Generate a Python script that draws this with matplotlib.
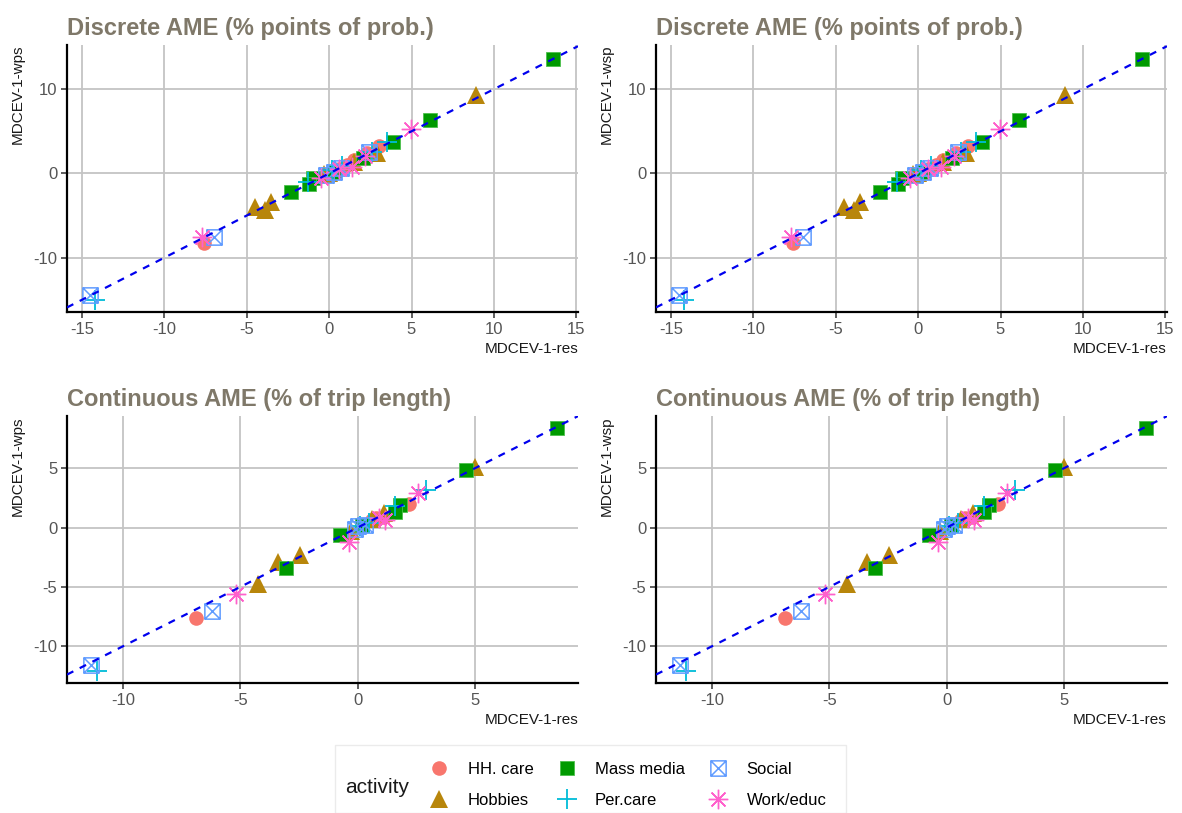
import matplotlib
matplotlib.use("Agg")
import matplotlib.pyplot as plt
from matplotlib.lines import Line2D
from matplotlib.patches import Rectangle
from matplotlib.path import Path

plt.rcParams['font.family'] = ['Liberation Sans', 'DejaVu Sans']
plt.rcParams['axes.unicode_minus'] = False

# activity order as in the legend
activities = ["HH. care", "Hobbies", "Mass media", "Per.care", "Social", "Work/educ"]

# discrete AME (% points of prob.), x = MDCEV-1-res, y = MDCEV-1-wps
disc_act = (["HH. care"] * 6 + ["Hobbies"] * 8 + ["Mass media"] * 8
            + ["Per.care"] * 6 + ["Social"] * 6 + ["Work/educ"] * 6)
disc_res = [-7.6, 3.0, 1.5, 2.3, 0.6, 1.1,
            8.9, -4.5, -3.9, -3.5, 2.9, -0.3, 0.0, 1.5,
            13.6, 6.1, 3.9, 2.05, -2.3, -1.0, -1.2, 0.3,
            -14.2, 3.5, 2.6, -1.3, 0.8, 0.2,
            -14.5, -7.0, 2.45, 0.3, 0.7, -0.2,
            4.95, -7.7, 1.4, 0.6, 2.2, -0.5]
disc_wps = [-8.2, 3.2, 1.6, 2.4, 0.5, 1.0,
            9.3, -3.95, -4.3, -3.4, 2.4, -0.1, 0.1, 1.4,
            13.6, 6.4, 3.75, 1.8, -2.2, -0.6, -1.2, 0.2,
            -15.0, 3.75, 2.5, -1.0, 0.9, 0.4,
            -14.4, -7.5, 2.6, 0.2, 0.7, -0.2,
            5.3, -7.5, 0.8, 0.5, 2.1, -0.6]
# the wsp panels look identical to the wps ones
disc_wsp = list(disc_wps)

# continuous AME (% of trip length)
cont_act = (["HH. care"] * 5 + ["Hobbies"] * 7 + ["Mass media"] * 7
            + ["Per.care"] * 5 + ["Social"] * 5 + ["Work/educ"] * 5)
cont_res = [-6.9, 2.2, 0.8, 1.1, 0.6,
            5.0, -3.4, -2.45, -4.26, -0.3, 0.6, 1.1,
            8.48, 4.6, 1.8, 1.6, -3.06, -0.77, 0.2,
            -11.1, 2.9, 1.6, 0.1, 0.5,
            -11.35, -6.2, 0.0, 0.3, -0.1,
            -5.2, 2.56, -0.37, 1.15, 0.9]
cont_wps = [-7.6, 2.0, 0.8, 0.9, 0.6,
            5.1, -2.9, -2.3, -4.76, -0.3, 0.7, 1.2,
            8.35, 4.85, 1.9, 1.35, -3.4, -0.6, 0.2,
            -12.1, 3.2, 1.8, 0.1, 0.4,
            -11.6, -7.0, 0.1, 0.2, -0.1,
            -5.6, 2.9, -1.2, 0.65, 0.8]
cont_wsp = list(cont_wps)

colors = {"HH. care": "#F8766D", "Hobbies": "#B8860B", "Mass media": "#009A00",
          "Per.care": "#00BCD8", "Social": "#619CFF", "Work/educ": "#FF61CC"}

# square with a cross inside (ggplot shape 7)
sq_x = Path([(-1, -1), (1, -1), (1, 1), (-1, 1), (-1, -1), (-1, -1), (1, 1), (-1, 1), (1, -1)],
            [Path.MOVETO, Path.LINETO, Path.LINETO, Path.LINETO, Path.CLOSEPOLY,
             Path.MOVETO, Path.LINETO, Path.MOVETO, Path.LINETO])

marker_style = {
    "HH. care": dict(marker="o", markersize=10.5, markeredgewidth=0),
    "Hobbies": dict(marker="^", markersize=12.5, markeredgewidth=0),
    "Mass media": dict(marker="s", markersize=10.5, markeredgewidth=0.6),
    "Per.care": dict(marker="+", markersize=15, markeredgewidth=1.3),
    "Social": dict(marker=sq_x, markersize=11, markeredgewidth=1.1, markerfacecolor="none"),
    "Work/educ": dict(marker=(8, 2, 0), markersize=14, markeredgewidth=1.0),
}


def style_marker(act):
    kw = dict(marker_style[act])
    kw["color"] = colors[act]
    if act == "Mass media":
        kw["markeredgecolor"] = "#4CC04C"
    return kw


W, H = 1182, 813
fig = plt.figure(figsize=(W / 100, H / 100), dpi=100)

panels = [
    # (left px, top px, x, y, act, title, ylabel, xlim, ylim, xticks, yticks)
    (67, 45, disc_res, disc_wps, disc_act, "Discrete AME (% points of prob.)", "MDCEV-1-wps",
     (-15.9, 15.1), (-16.44, 15.24), [-15, -10, -5, 0, 5, 10, 15], [-10, 0, 10]),
    (656, 45, disc_res, disc_wsp, disc_act, "Discrete AME (% points of prob.)", "MDCEV-1-wsp",
     (-15.9, 15.1), (-16.44, 15.24), [-15, -10, -5, 0, 5, 10, 15], [-10, 0, 10]),
    (67, 416, cont_res, cont_wps, cont_act, "Continuous AME (% of trip length)", "MDCEV-1-wps",
     (-12.39, 9.39), (-13.1, 9.4), [-10, -5, 0, 5], [-10, -5, 0, 5]),
    (656, 416, cont_res, cont_wsp, cont_act, "Continuous AME (% of trip length)", "MDCEV-1-wsp",
     (-12.39, 9.39), (-13.1, 9.4), [-10, -5, 0, 5], [-10, -5, 0, 5]),
]

for left, top, xs, ys, acts, title, ylab, xlim, ylim, xt, yt in panels:
    ax = fig.add_axes([left / W, 1 - (top + 267) / H, 511 / W, 267 / H])
    for act in activities:
        px = [x for x, a in zip(xs, acts) if a == act]
        py = [y for y, a in zip(ys, acts) if a == act]
        ax.plot(px, py, linestyle="none", zorder=3, **style_marker(act))
    ax.set_xlim(*xlim)
    ax.set_ylim(*ylim)
    ax.axline((0, 0), slope=1, color="#0000EE", lw=1.6, linestyle=(0, (3.2, 3.2)), zorder=4)
    ax.set_xticks(xt)
    ax.set_yticks(yt)
    ax.grid(True, color="#c4c4c4", lw=1.3, zorder=0)
    ax.set_axisbelow(True)
    for s in ["top", "right"]:
        ax.spines[s].set_visible(False)
    for s in ["left", "bottom"]:
        ax.spines[s].set_color("black")
        ax.spines[s].set_linewidth(1.6)
    ax.tick_params(labelsize=12, labelcolor="#555555", color="#333333",
                   length=4, width=1.1, pad=3)
    ax.set_title(title, loc="left", fontsize=17, fontweight="bold", color="#7f7869", pad=7)
    ax.set_ylabel(ylab, loc="top", fontsize=11, color="#1a1a1a", labelpad=6)
    ax.set_xlabel("MDCEV-1-res", loc="right", fontsize=11, color="#1a1a1a", labelpad=4)

# legend at the bottom, title on the left like ggplot
handles = []
for act in activities:
    handles.append(Line2D([], [], linestyle="none", **style_marker(act)))
fig.legend(handles, activities, ncol=3, loc="center", bbox_to_anchor=(628 / W, 1 - 785 / H),
           frameon=False, fontsize=12, handlelength=1.2, handletextpad=1.1,
           columnspacing=1.4, labelspacing=0.95, borderpad=0.2)
fig.text(377 / W, 1 - 787 / H, "activity", fontsize=15, color="#1a1a1a", ha="center", va="center")
fig.patches.append(Rectangle((335 / W, 0), 511 / W, (813 - 745) / H, transform=fig.transFigure,
                             facecolor="none", edgecolor="#ebebeb", lw=1))

fig.savefig("out.png", dpi=100)
